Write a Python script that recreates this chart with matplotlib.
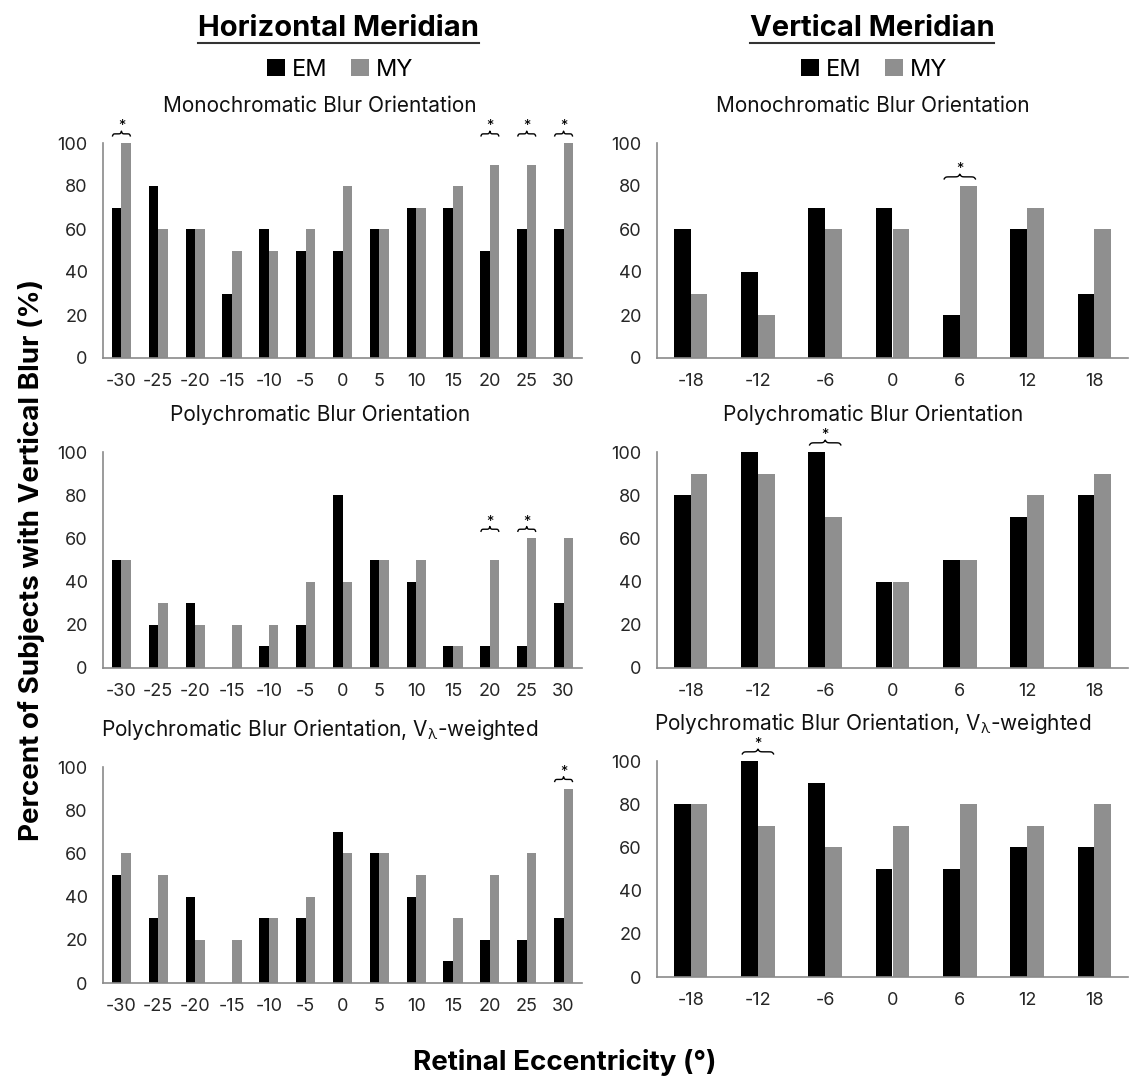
import numpy as np
import matplotlib
matplotlib.use("Agg")
import matplotlib.pyplot as plt
from matplotlib.lines import Line2D
from matplotlib.patches import Patch

plt.rcParams['font.family'] = ['Inter', 'DejaVu Sans']
plt.rcParams['mathtext.fontset'] = 'custom'
plt.rcParams['mathtext.rm'] = 'Inter'
plt.rcParams['mathtext.it'] = 'Inter'

# ---------------- data ----------------
h_cats = [-30, -25, -20, -15, -10, -5, 0, 5, 10, 15, 20, 25, 30]
v_cats = [-18, -12, -6, 0, 6, 12, 18]

h_mono_em = [70, 80, 60, 30, 60, 50, 50, 60, 70, 70, 50, 60, 60]
h_mono_my = [100, 60, 60, 50, 50, 60, 80, 60, 70, 80, 90, 90, 100]
h_mono_sig = [-30, 20, 25, 30]

v_mono_em = [60, 40, 70, 70, 20, 60, 30]
v_mono_my = [30, 20, 60, 60, 80, 70, 60]
v_mono_sig = [6]

h_poly_em = [50, 20, 30, 0, 10, 20, 80, 50, 40, 10, 10, 10, 30]
h_poly_my = [50, 30, 20, 20, 20, 40, 40, 50, 50, 10, 50, 60, 60]
h_poly_sig = [20, 25]

v_poly_em = [80, 100, 100, 40, 50, 70, 80]
v_poly_my = [90, 90, 70, 40, 50, 80, 90]
v_poly_sig = [-6]

h_vl_em = [50, 30, 40, 0, 30, 30, 70, 60, 40, 10, 20, 20, 30]
h_vl_my = [60, 50, 20, 20, 30, 40, 60, 60, 50, 30, 50, 60, 90]
h_vl_sig = [30]

v_vl_em = [80, 100, 90, 50, 50, 60, 60]
v_vl_my = [80, 70, 60, 70, 80, 70, 80]
v_vl_sig = [-12]

titles = ["Monochromatic Blur Orientation",
          "Polychromatic Blur Orientation",
          r"Polychromatic Blur Orientation, V$_{\lambda}$-weighted"]
col_titles = ["Horizontal Meridian", "Vertical Meridian"]
series_names = ["EM", "MY"]
y_ticks = [0, 20, 40, 60, 80, 100]
ylabel = "Percent of Subjects with Vertical Blur (%)"
xlabel = "Retinal Eccentricity (°)"

# ---------------- layout ----------------
W, H = 1129, 1082
fig = plt.figure(figsize=(W / 100, H / 100), dpi=100)
fig.patch.set_facecolor("white")

EM_C = "#000000"
MY_C = "#8f8f8f"
AX_C = "#8a8a8a"


def fx(x):
    return x / W


def fy(y):
    return 1 - y / H


def make_ax(x0, x1, ytop, ybot):
    return fig.add_axes([fx(x0), fy(ybot), (x1 - x0) / W, (ybot - ytop) / H])


def brace(ax, xc, w, y0, h):
    half = np.linspace(0, 0.5, 60)
    beta = 40.0
    yh = 1 / (1 + np.exp(-beta * (half - 0.0))) + 1 / (1 + np.exp(-beta * (half - 0.5)))
    yh = (yh - yh[0]) / (yh[-1] - yh[0])
    t = np.concatenate([half, half + 0.5])
    yy = np.concatenate([yh, yh[::-1]])
    ax.plot(xc - w / 2 + t * w, y0 + h * yy, color="black", lw=1.0,
            clip_on=False, solid_capstyle="butt")


panels = [
    # (x0, x1, ytop, ybot, cats, em, my, sig, title index, bar width)
    (103, 582, 143, 358, h_cats, h_mono_em, h_mono_my, h_mono_sig, 0, 0.26),
    (657, 1128, 143, 358, v_cats, v_mono_em, v_mono_my, v_mono_sig, 0, 0.25),
    (103, 582, 452, 668, h_cats, h_poly_em, h_poly_my, h_poly_sig, 1, 0.26),
    (657, 1128, 452, 668, v_cats, v_poly_em, v_poly_my, v_poly_sig, 1, 0.25),
    (103, 582, 767, 983, h_cats, h_vl_em, h_vl_my, h_vl_sig, 2, 0.26),
    (657, 1128, 761, 977, v_cats, v_vl_em, v_vl_my, v_vl_sig, 2, 0.25),
]

for (x0, x1, yt, yb, cats, em, my, sig, ti, bw) in panels:
    ax = make_ax(x0, x1, yt, yb)
    x = np.arange(len(cats))
    ax.bar(x - bw / 2, em, bw, color=EM_C, zorder=2)
    ax.bar(x + bw / 2, my, bw, color=MY_C, zorder=2)
    ax.set_xlim(-0.5, len(cats) - 0.5)
    ax.set_ylim(0, 100)
    ax.set_yticks(y_ticks)
    ax.set_xticks(x)
    ax.set_xticklabels([str(c) for c in cats])
    for s in ("top", "right"):
        ax.spines[s].set_visible(False)
    for s in ("left", "bottom"):
        ax.spines[s].set_color(AX_C)
        ax.spines[s].set_linewidth(1.2)
    ax.tick_params(axis="both", length=0, labelsize=13, colors="#262626")
    ax.tick_params(axis="x", pad=11)
    ax.tick_params(axis="y", pad=11)
    # significance
    if sig:
        idx = [cats.index(c) for c in sig]
        level = max(max(em[i], my[i]) for i in idx) + 3
        for i in idx:
            brace(ax, x[i], 2 * bw * 0.95, level, 2.5)
            ax.annotate("*", (x[i], level + 2.5), xytext=(0, -1.5),
                        textcoords="offset points", ha="center", va="bottom",
                        fontsize=10.5, annotation_clip=False)
    # title
    cx = 320 if x0 < 500 else 873
    fig.text(fx(cx), fy(yt - 37), titles[ti], ha="center", va="center",
             fontsize=15, color="#111111")

# column headers with underline
hdr_texts = []
for cx, t in zip([338, 872], col_titles):
    ht = fig.text(fx(cx), fy(28), t, ha="center", va="center",
                  fontsize=21, fontweight="bold", color="black")
    hdr_texts.append(ht)

# legends
for cx in [340, 874]:
    handles = [Patch(facecolor=EM_C, edgecolor="none"),
               Patch(facecolor=MY_C, edgecolor="none")]
    fig.legend(handles, series_names, loc="center", bbox_to_anchor=(fx(cx), fy(70)),
               ncol=2, frameon=False, fontsize=17, handlelength=0.75,
               handleheight=0.75, handletextpad=0.3, columnspacing=1.0)

fig.text(fx(32), fy(560), ylabel, rotation=90, ha="center", va="center",
         fontsize=20, fontweight="bold")
fig.text(fx(565), fy(1062), xlabel, ha="center", va="center",
         fontsize=20, fontweight="bold")

fig.canvas.draw()
r = fig.canvas.get_renderer()
for ht in hdr_texts:
    bb = ht.get_window_extent(r)
    yline = (bb.y0 - 1) / fig.bbox.height
    fig.add_artist(Line2D([bb.x0 / fig.bbox.width, bb.x1 / fig.bbox.width],
                          [yline, yline], color="#333333", lw=1.5))

fig.savefig("out.png", dpi=100, facecolor="white")
